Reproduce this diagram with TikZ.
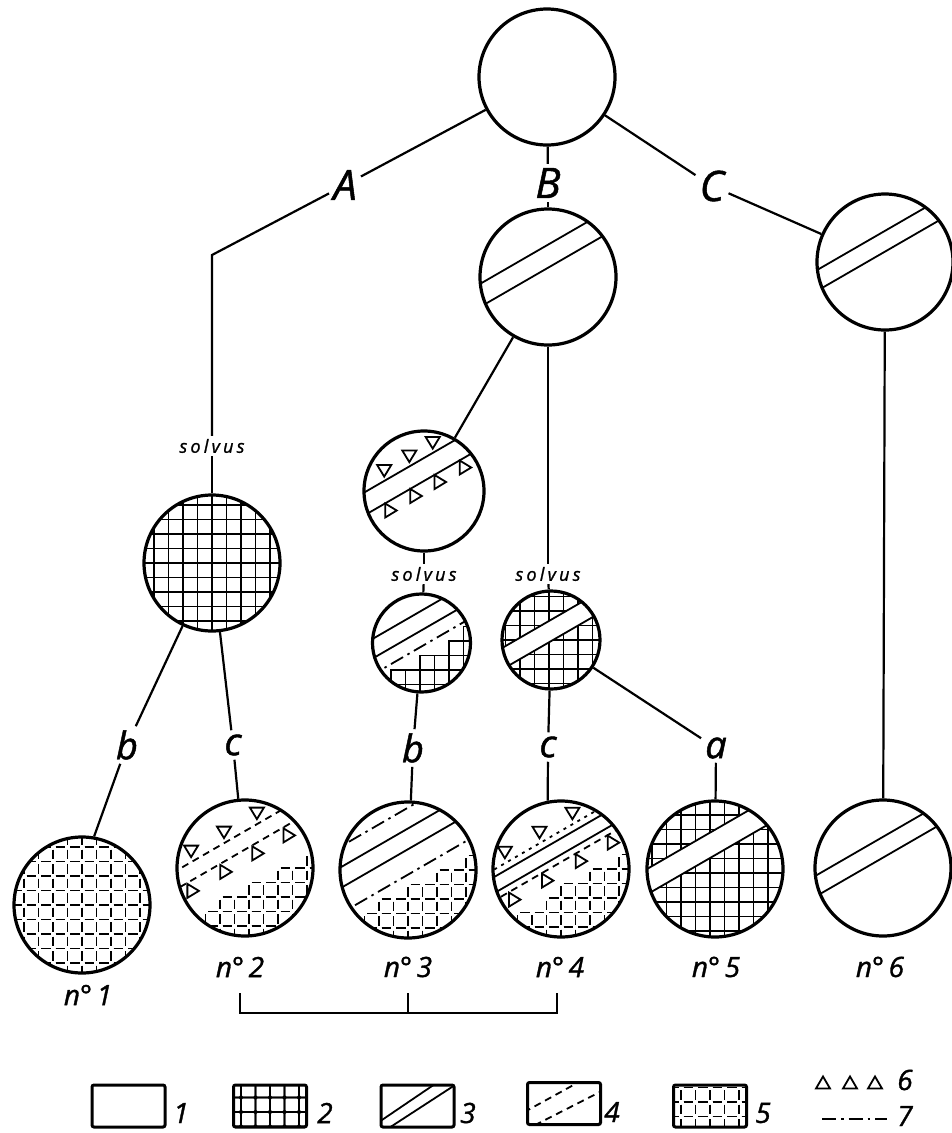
\documentclass[tikz,border=0pt]{standalone}
\usepackage{fontspec}
\setsansfont{Open Sans}[FakeBold=1.2]
\usetikzlibrary{positioning}

\begin{document}
\begin{tikzpicture}[x=1pt,y=-1pt,
  disc/.style={circle,draw,line width=3.2pt,minimum size=136pt,inner sep=0pt},
  middisc/.style={disc,minimum size=120pt},
  smalldisc/.style={disc,minimum size=98pt},
  keybox/.style={draw,line width=3pt,rounded corners=2pt,minimum width=73pt,minimum height=42pt,inner sep=0pt},
  fill in/.style={path picture={\begin{scope}#1\end{scope}}},
  link/.style={line width=2.2pt},
  hatch/.style={line width=1.8pt},
  dashline/.style={hatch,dash pattern=on 7pt off 5pt},
  dotline/.style={hatch,dash pattern=on 3pt off 5pt},
  dashdot/.style={hatch,dash pattern=on 14pt off 5pt on 2.5pt off 5pt},
  letter/.style={font=\fontsize{42}{42}\selectfont\sffamily\itshape,inner sep=4pt},
  sublabel/.style={font=\fontsize{38}{38}\selectfont\sffamily\itshape,inner sep=4pt},
  numlabel/.style={font=\fontsize{28}{28}\selectfont\sffamily\itshape,inner sep=2pt},
  solvus/.style={font=\fontsize{18}{18}\selectfont\sffamily\itshape\addfontfeature{LetterSpace=18},inner sep=3pt},
]
\useasboundingbox (0,0) rectangle (952,1133);
%
\def\gs{14.5}
\newcommand{\turn}[1]{\begin{scope}\pgftransformrotate{30}#1\end{scope}}
\newcommand{\band}[2]{\draw[hatch] (-90,#1) -- (90,#1) (-90,#2) -- (90,#2);}
\newcommand{\tridown}[2]{\begin{scope}\pgftransformshift{\pgfpointxy{#1}{#2}}\pgftransformresetnontranslations
  \draw[hatch] (-7,-5) -- (7,-5) -- (0,6.5) -- cycle;\end{scope}}
\newcommand{\triright}[2]{\begin{scope}\pgftransformshift{\pgfpointxy{#1}{#2}}\pgftransformresetnontranslations
  \draw[hatch] (-5,-7) -- (-5,7) -- (6.5,0) -- cycle;\end{scope}}
\newcommand{\triup}[2]{\begin{scope}\pgftransformshift{\pgfpointxy{#1}{#2}}
  \draw[hatch] (-7,5.5) -- (7,5.5) -- (0,-6.5) -- cycle;\end{scope}}
\newcommand{\solidcell}{\draw[hatch] (\cellx-7.25,\celly-7.25) rectangle (\cellx+7.25,\celly+7.25);}
\newcommand{\dashcell}{\draw[hatch] (\cellx-4.75,\celly-7.25) -- (\cellx+4.75,\celly-7.25)
  (\cellx-4.75,\celly+7.25) -- (\cellx+4.75,\celly+7.25)
  (\cellx-7.25,\celly-4.75) -- (\cellx-7.25,\celly+4.75)
  (\cellx+7.25,\celly-4.75) -- (\cellx+7.25,\celly+4.75);}
\newcommand{\cells}[4]{%
  \foreach \i in {-6,...,5}{
    \foreach \j in {-6,...,5}{
      \pgfmathsetmacro{\cellx}{#3+(\i+0.5)*\gs}
      \pgfmathsetmacro{\celly}{#4+(\j+0.5)*\gs}
      \pgfmathsetmacro{\cellv}{0.5*\cellx+0.866*\celly}
      \ifdim \cellv pt>#2pt \csname #1cell\endcsname \fi
    }
  }
}
%
% tree
\node[disc] (root) at (547,77) {};
\node[letter] (A) at (345,185) {A};
\node[letter] (B) at (548,183) {B};
\node[letter] (C) at (712,186) {C};
\node[disc,fill in={\turn{\band{-28}{-8}}}] (P3) at (548,277) {};
\node[disc,fill in={\turn{\band{-27}{-9}}}] (P4) at (885,262) {};
\coordinate (kA) at (212,255);
\node[solvus] (solA) at (212,446) {solvus};
\node[disc,fill in={\cells{solid}{-999}{0}{0}}] (P2) at (212,563) {};
\node[middisc,fill in={\turn{\band{-28.6}{-8.7}
  \foreach \u in {-24,5,32}{\tridown{\u}{-38}}
  \foreach \u in {-39,-10,18,47}{\triright{\u}{0}}}}] (T3) at (424,491) {};
\node[solvus] (solT) at (424,574) {solvus};
\node[solvus] (solB) at (548,574) {solvus};
\node[smalldisc,fill in={\cells{solid}{16}{-1.5}{-2}\turn{\band{-28}{-11}
  \draw[dashdot] (-90,3) -- (90,3);}}] (S3) at (421.5,643) {};
\node[smalldisc,fill in={\cells{solid}{-999}{-2}{0}\turn{\fill[white] (-90,-17.5) rectangle (90,1);
  \band{-17.5}{1}}}] (S4) at (551,640) {};
\node[sublabel] (b1) at (127,745) {b};
\node[sublabel] (c2) at (233,745) {c};
\node[sublabel] (b3) at (413,748) {b};
\node[sublabel] (c4) at (548,747) {c};
\node[sublabel] (a5) at (716,748) {a};
%
% samples
\node[disc,fill in={\cells{dash}{22}{4}{0}\turn{
  \draw[dashline] (-90,-32) -- (90,-32) (-90,-16) -- (90,-16);
  \foreach \u in {-38,0,38}{\tridown{\u}{-42}}
  \foreach \u in {-57,-19,18,54}{\triright{\u}{-6.5}}}}] (n2) at (245,868) {};
\node[disc,fill in={\cells{dash}{-999}{0}{0}}] (n1) at (82,905) {};
\node[disc,fill in={\cells{dash}{20}{0}{0}\turn{\band{-36}{-18}
  \draw[dashdot] (-90,-54) -- (90,-54) (-90,4) -- (90,4);}}] (n3) at (408,870) {};
\node[disc,fill in={\cells{dash}{22}{0}{0}\turn{\band{-26.5}{-12.5}
  \draw[dotline] (-90,-33) -- (90,-33);
  \draw[dashline] (-90,-6) -- (90,-6);
  \foreach \u in {-40,0,38}{\tridown{\u}{-43}}
  \foreach \u in {-56,-18,21,58}{\triright{\u}{3}}}}] (n4) at (561,869) {};
\node[disc,fill in={\cells{solid}{-999}{-5}{4}\turn{\fill[white] (-90,-34) rectangle (90,-12);
  \band{-34}{-12}}}] (n5) at (715,869) {};
\node[disc,fill in={\turn{\band{-27}{-9}}}] (n6) at (883,868) {};
\node[numlabel] (lab1) at (88,995) {n°\,1};
\node[numlabel] (lab2) at (240,967) {n°\,2};
\node[numlabel] (lab3) at (408,967) {n°\,3};
\node[numlabel] (lab4) at (560,967) {n°\,4};
\node[numlabel] (lab5) at (716,967) {n°\,5};
\node[numlabel] (lab6) at (880,967) {n°\,6};
%
\draw[link] (root) -- (A);
\draw[link] (A) -- (kA) -- (solA);
\draw[link] (solA) -- (P2);
\draw[link] (root) -- (B);
\draw[link] (B) -- (P3);
\draw[link] (root) -- (C);
\draw[link] (C) -- (P4);
\draw[link] (P4) -- (n6);
\draw[link] (P3) -- (T3);
\draw[link] (P3) -- (solB);
\draw[link] (T3) -- (solT);
\draw[link] (solT) -- (S3);
\draw[link] (solB) -- (S4);
\draw[link] (P2) -- (b1);
\draw[link] (b1) -- (n1.80);
\draw[link] (P2) -- (c2);
\draw[link] (c2) -- (n2);
\draw[link] (S3) -- (b3);
\draw[link] (b3) -- (n3);
\draw[link] (S4) -- (c4);
\draw[link] (c4) -- (n4.101);
\draw[link] (S4) -- (a5);
\draw[link] (a5) -- (n5);
%
% bracket
\coordinate (up2) at (240,993);
\coordinate (up3) at (408,993);
\coordinate (up4) at (557,993);
\coordinate (br2) at (240,1013);
\coordinate (br3) at (408,1013);
\coordinate (br4) at (557,1013);
\draw[link] (up2) -- (br2) -- (br4) -- (up4);
\draw[link] (up3) -- (br3);
%
% legend
\node[keybox] (k1) at (128.5,1106) {};
\node[keybox,fill in={\cells{solid}{-999}{0}{6}}] (k2) at (270,1106) {};
\node[keybox,fill in={\draw[hatch] (-40,17) -- (20,-23.7) (-40,29.4) -- (40,-22.6);}] (k3) at (417.5,1106) {};
\node[keybox,fill in={\draw[dashline] (-40,8.7) -- (40,-35.3) (-40,27.2) -- (40,-13.6);}] (k4) at (564,1103.5) {};
\node[keybox,fill in={\cells{dash}{-999}{0}{-4}}] (k5) at (710,1106) {};
\node[numlabel] (t1) at (181,1113) {1};
\node[numlabel] (t2) at (325,1113) {2};
\node[numlabel] (t3) at (468,1113) {3};
\node[numlabel] (t4) at (612,1112) {4};
\node[numlabel] (t5) at (763,1113) {5};
\node[numlabel] (t6) at (905,1080) {6};
\node[numlabel] (t7) at (905,1116) {7};
\foreach \x in {823,850,875}{\triup{\x}{1083}}
\coordinate (d1) at (822,1119);
\coordinate (d2) at (887,1119);
\draw[dashdot,line width=2pt] (d1) -- (d2);
%
\end{tikzpicture}
\end{document}
